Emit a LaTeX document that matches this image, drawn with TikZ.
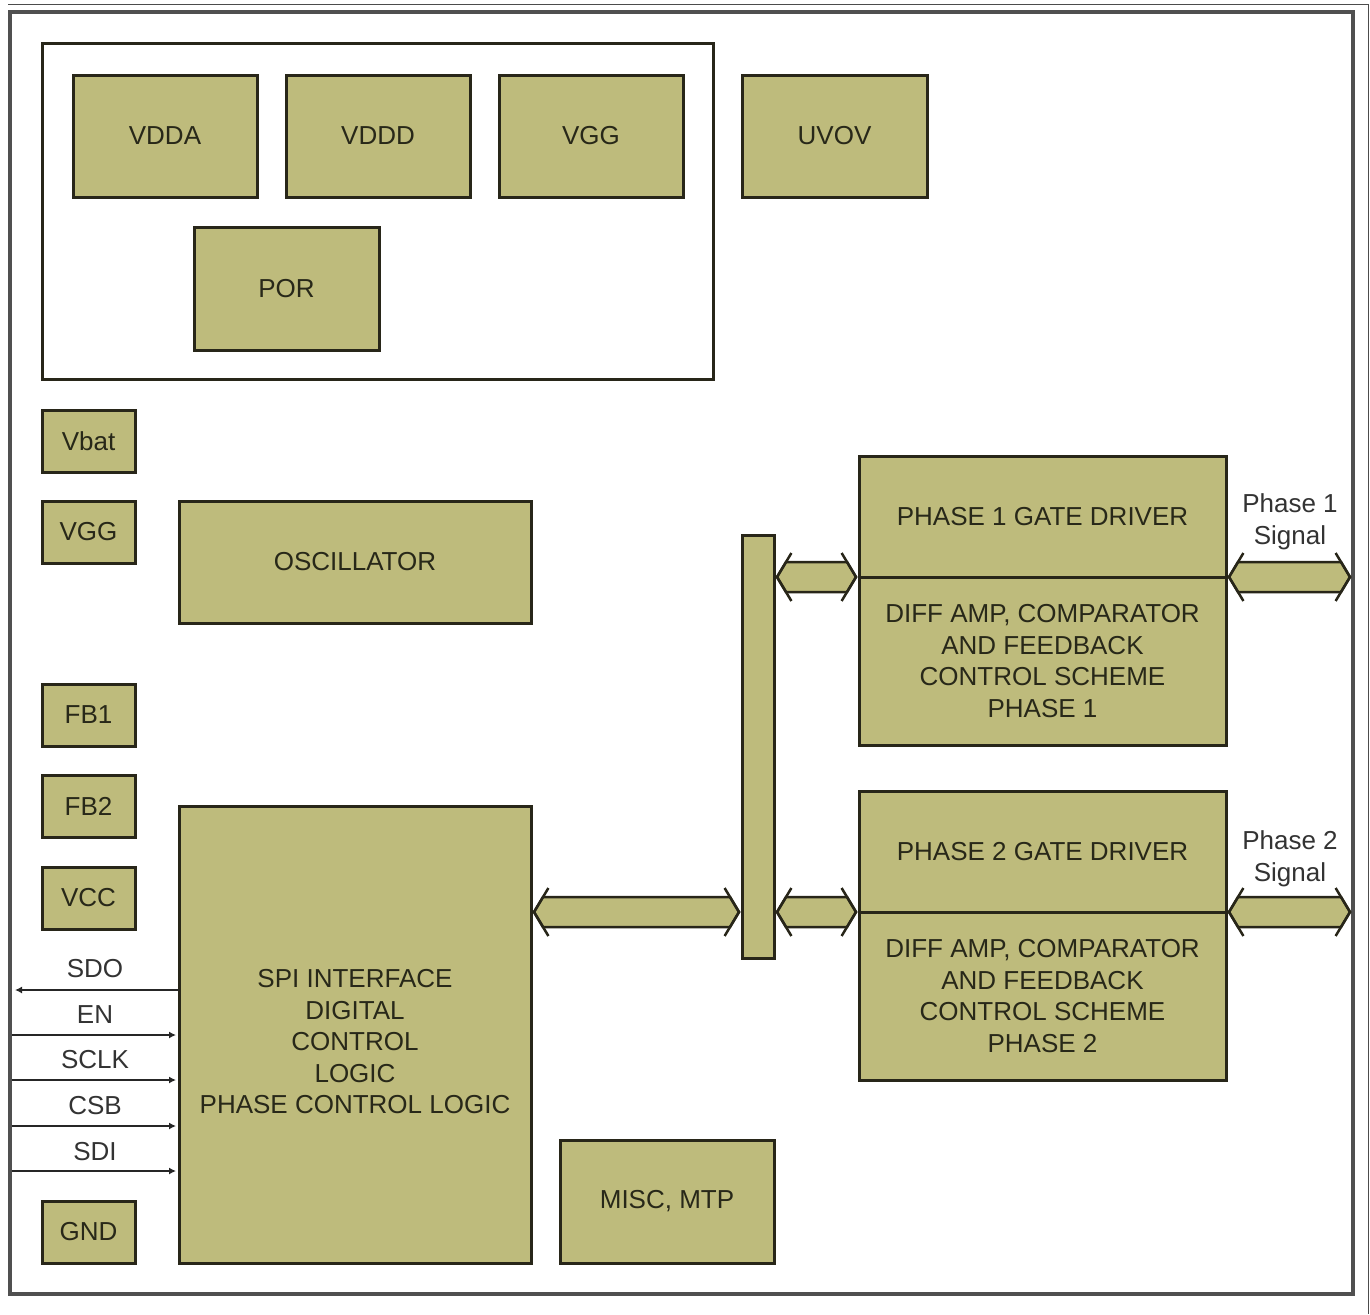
\documentclass[tikz,border=0pt]{standalone}
\usepackage{fontspec}
\setmainfont{Liberation Sans}
\usetikzlibrary{calc,arrows.meta}
\definecolor{blkfill}{RGB}{190,187,124}
\definecolor{blkline}{RGB}{40,38,25}
\definecolor{txtc}{RGB}{40,40,25}
\definecolor{framec}{RGB}{80,80,80}
\tikzset{
  blk/.style={draw=blkline, fill=blkfill, line width=3pt, inner sep=0pt, outer sep=0pt, align=center,
    text=txtc, font=\fontsize{26}{31.5}\selectfont},
  lbl/.style={inner sep=0pt, align=center, text=black!80, font=\fontsize{26}{31.5}\selectfont},
  sig/.style={line width=2.5pt, draw=black!85, -{Latex[length=7pt,width=7pt]}},
  fatline/.style={draw=blkline, line width=2.5pt, line join=miter},
}
\newcommand\fatarrow[2]{%
  \path[fatline, fill=blkfill] let \p1=(#1), \p2=(#2) in
    (\x1,\y1) -- (\x1+9pt,\y1+15pt) -- (\x2-9pt,\y1+15pt) -- (\x2,\y1)
    -- (\x2-9pt,\y1-15pt) -- (\x1+9pt,\y1-15pt) -- cycle;
  \path[fatline] let \p1=(#1), \p2=(#2) in
    (\x1+14.4pt,\y1+24pt) -- (\x1,\y1) -- (\x1+14.4pt,\y1-24pt)
    (\x2-14.4pt,\y1+24pt) -- (\x2,\y1) -- (\x2-14.4pt,\y1-24pt);
}
\begin{document}
\begin{tikzpicture}[x=1pt,y=-1pt]
\useasboundingbox (0,0) rectangle (1370,1314);
\fill[white] (0,0) rectangle (1370,1314);
% outer frame
\draw[framec, line width=4pt] (10,12) rectangle (1353,1294);
\draw[black!70, line width=1pt] (8,5) -- (1368,5) -- (1368,1314);
% top group box
\node[draw=blkline, line width=3pt, inner sep=0pt, outer sep=0pt, minimum width=671pt, minimum height=335pt] (grp) at (377.5,211.5) {};
\node[blk, minimum width=184pt, minimum height=122pt] (vdda) at (165,136) {VDDA};
\node[blk, minimum width=184pt, minimum height=122pt] (vddd) at (378,136) {VDDD};
\node[blk, minimum width=184pt, minimum height=122pt] (vggt) at (591,136) {VGG};
\node[blk, minimum width=185pt, minimum height=122pt] (uvov) at (834.5,136) {UVOV};
\node[blk, minimum width=185pt, minimum height=123pt] (por) at (286.5,288.5) {POR};
% left pins
\node[blk, minimum width=93pt, minimum height=62pt] (vbat) at (88.5,441) {Vbat};
\node[blk, minimum width=93pt, minimum height=62pt] (vggp) at (88.5,532) {VGG};
\node[blk, minimum width=93pt, minimum height=62pt] (fb1) at (88.5,715) {FB1};
\node[blk, minimum width=93pt, minimum height=62pt] (fb2) at (88.5,806.5) {FB2};
\node[blk, minimum width=93pt, minimum height=62pt] (vcc) at (88.5,898) {VCC};
\node[blk, minimum width=93pt, minimum height=62pt] (gnd) at (88.5,1232) {GND};
% main blocks
\node[blk, minimum width=352pt, minimum height=122pt] (osc) at (355,562) {OSCILLATOR};
\node[blk, minimum width=352pt, minimum height=457pt] (spi) at (355,1034.5) {};
\node[lbl, text=txtc] (spitxt) at (355,1042) {SPI INTERFACE\\DIGITAL\\CONTROL\\LOGIC\\PHASE CONTROL LOGIC};
\node[blk, minimum width=214pt, minimum height=123pt] (misc) at (667,1201.5) {MISC, MTP};
\node[blk, minimum width=32pt, minimum height=423pt] (bus) at (758,746.5) {};
% phase blocks
\node[blk, minimum width=367pt, minimum height=121pt] (p1top) at (1042.5,516.5) {PHASE 1 GATE DRIVER};
\node[blk, minimum width=367pt, minimum height=168pt] (p1bot) at (1042.5,661) {DIFF AMP, COMPARATOR\\AND FEEDBACK\\CONTROL SCHEME\\PHASE 1};
\node[blk, minimum width=367pt, minimum height=121pt] (p2top) at (1042.5,851.5) {PHASE 2 GATE DRIVER};
\node[blk, minimum width=367pt, minimum height=168pt] (p2bot) at (1042.5,996) {DIFF AMP, COMPARATOR\\AND FEEDBACK\\CONTROL SCHEME\\PHASE 2};
% fat arrows
\coordinate (sig1) at ($(p1top.south east)+(124,0)$);
\coordinate (sig2) at ($(p2top.south east)+(124,0)$);
\coordinate (a1) at ($(spi.east |- p2top.south)+(3,0)$);
\coordinate (a2) at ($(bus.west |- p2top.south)+(-3,0)$);
\fatarrow{a1}{a2}
\coordinate (b1) at ($(bus.east |- p1top.south)+(3,0)$);
\coordinate (b2) at ($(p1top.south west)+(-3,0)$);
\fatarrow{b1}{b2}
\coordinate (c1) at ($(bus.east |- p2top.south)+(3,0)$);
\coordinate (c2) at ($(p2top.south west)+(-3,0)$);
\fatarrow{c1}{c2}
\coordinate (d1) at ($(p1top.south east)+(3,0)$);
\fatarrow{d1}{sig1}
\coordinate (e1) at ($(p2top.south east)+(3,0)$);
\fatarrow{e1}{sig2}
\node[lbl] (ph1) at (1290,522) {Phase 1\\Signal};
\node[lbl] (ph2) at (1290,859) {Phase 2\\Signal};
% serial signals
\coordinate (sdo) at (15,990);
\coordinate (en) at (12,1035);
\coordinate (sclk) at (12,1080);
\coordinate (csb) at (12,1126);
\coordinate (sdi) at (12,1171);
\draw[sig] (spi.west |- sdo) -- (sdo);
\draw[sig, shorten >=3pt] (en) -- (spi.west |- en);
\draw[sig, shorten >=3pt] (sclk) -- (spi.west |- sclk);
\draw[sig, shorten >=3pt] (csb) -- (spi.west |- csb);
\draw[sig, shorten >=3pt] (sdi) -- (spi.west |- sdi);
\node[lbl] (lsdo) at (95,969) {SDO};
\node[lbl] (len) at (95,1015) {EN};
\node[lbl] (lsclk) at (95,1060) {SCLK};
\node[lbl] (lcsb) at (95,1106) {CSB};
\node[lbl] (lsdi) at (95,1152) {SDI};
\end{tikzpicture}
\end{document}
